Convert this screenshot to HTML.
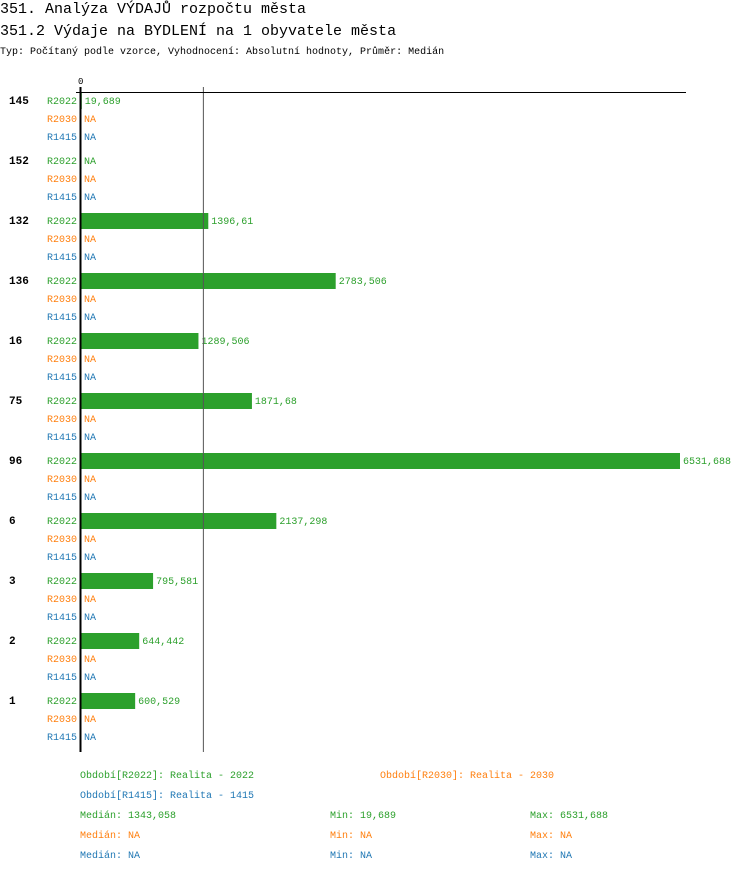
<!DOCTYPE html>
<html><head><meta charset="utf-8"><style>
body{margin:0;background:#fff;}
svg text{font-family:"Liberation Mono","DejaVu Sans Mono",monospace;}
</style></head><body>
<svg id="chart" width="750" height="872" xmlns="http://www.w3.org/2000/svg">
<text x="0" y="13" font-size="15" fill="#000">351. Analýza VÝDAJŮ rozpočtu města</text>
<text x="0" y="35" font-size="15" fill="#000">351.2 Výdaje na BYDLENÍ na 1 obyvatele města</text>
<text x="0" y="54" font-size="10" fill="#000">Typ: Počítaný podle vzorce, Vyhodnocení: Absolutní hodnoty, Průměr: Medián</text>
<g id="plot"></g>
<g id="legend" font-size="10">
<text x="80" y="778" fill="#2ca02c">Období[R2022]: Realita - 2022</text>
<text x="380" y="778" fill="#ff7f0e">Období[R2030]: Realita - 2030</text>
<text x="80" y="798" fill="#1f77b4">Období[R1415]: Realita - 1415</text>
<text x="80" y="818" fill="#2ca02c">Medián: 1343,058</text>
<text x="330" y="818" fill="#2ca02c">Min: 19,689</text>
<text x="530" y="818" fill="#2ca02c">Max: 6531,688</text>
<text x="80" y="838" fill="#ff7f0e">Medián: NA</text>
<text x="330" y="838" fill="#ff7f0e">Min: NA</text>
<text x="530" y="838" fill="#ff7f0e">Max: NA</text>
<text x="80" y="858" fill="#1f77b4">Medián: NA</text>
<text x="330" y="858" fill="#1f77b4">Min: NA</text>
<text x="530" y="858" fill="#1f77b4">Max: NA</text>
</g>
</svg>
<script>
const categories=["145","152","132","136","16","75","96","6","3","2","1"];
const seriesNames=["R2022","R2030","R1415"];
const valuesR2022=[19.689,null,1396.61,2783.506,1289.506,1871.68,6531.688,2137.298,795.581,644.442,600.529];
const valuesR2030=[null,null,null,null,null,null,null,null,null,null,null];
const valuesR1415=[null,null,null,null,null,null,null,null,null,null,null];
const valueLabelsR2022=["19,689","NA","1396,61","2783,506","1289,506","1871,68","6531,688","2137,298","795,581","644,442","600,529"];
const medianValue=1343.058;
const maxValue=6531.688;

const colors=["#2ca02c","#ff7f0e","#1f77b4"];
const NS="http://www.w3.org/2000/svg";
const g=document.getElementById('plot');
const x0=80, xMaxPx=680;
const xScale=v=>x0+v/maxValue*(xMaxPx-x0);
const groupY=i=>92+i*60;
const rowY=(i,j)=>groupY(i)+9+j*18;
function mk(tag,attrs,text){const e=document.createElementNS(NS,tag);for(const k in attrs)e.setAttribute(k,attrs[k]);if(text!==undefined)e.textContent=text;g.appendChild(e);return e;}
const allSeries=[valuesR2022,valuesR2030,valuesR1415];
categories.forEach((c,i)=>{
  const gl=mk('text',{x:9,y:rowY(i,0)+3,'font-size':11,'font-weight':'bold',fill:'#000'},c);
  
  
  seriesNames.forEach((s,j)=>{
    const t=mk('text',{x:47,y:rowY(i,j)+3,'font-size':10,fill:colors[j]},s);
    
    
    const v=allSeries[j][i];
    let lx=84;
    if(v!==null){
      const b=mk('rect',{x:x0,y:rowY(i,j)-8,width:xScale(v)-x0,height:16,fill:colors[j]});
      
      
      lx=xScale(v)+3;
    }
    const lbl=(j===0)?valueLabelsR2022[i]:'NA';
    const vt=mk('text',{x:lx,y:rowY(i,j)+3,'font-size':10,fill:colors[j]},lbl);
    
    
  });
});
const ml=mk('line',{x1:xScale(medianValue),x2:xScale(medianValue),y1:87,y2:752,stroke:'#555','stroke-width':1});


const ta=mk('line',{x1:76,x2:686,y1:92.5,y2:92.5,stroke:'#000','stroke-width':1});


const va=mk('line',{x1:80.5,x2:80.5,y1:87,y2:752,stroke:'#000','stroke-width':2});


const zt=mk('text',{x:78,y:84,'font-size':9,fill:'#000'},'0');


</script>
</body></html>
